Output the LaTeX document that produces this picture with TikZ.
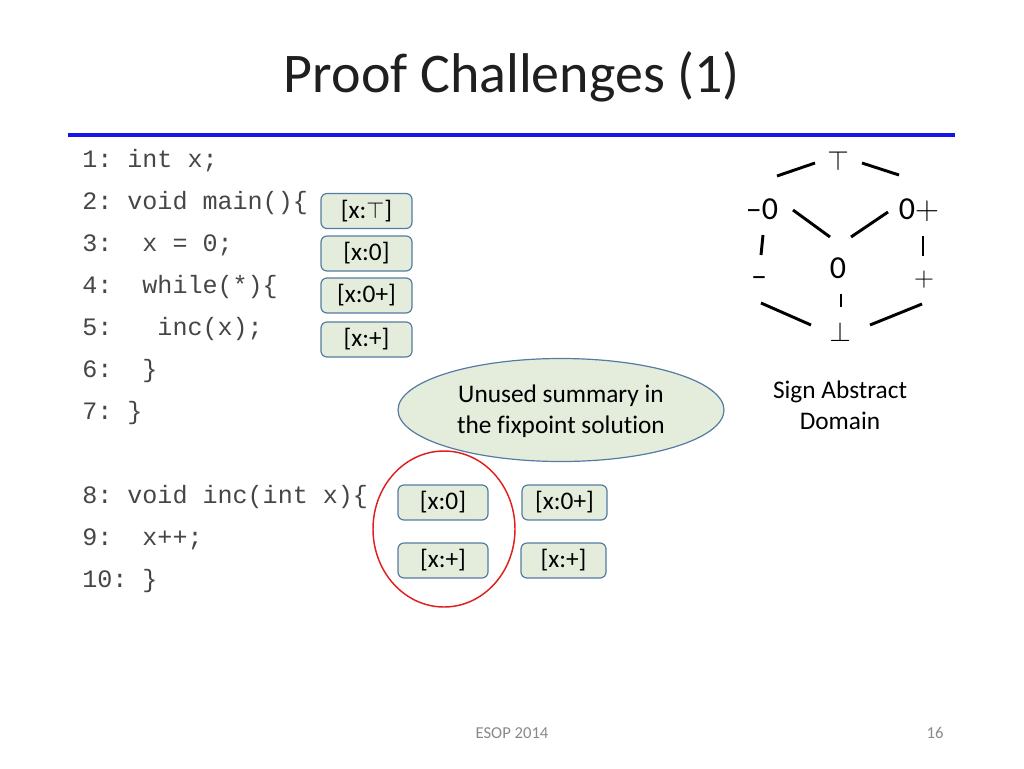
\documentclass[tikz,border=0pt]{standalone}
\usepackage{fontspec}
\setmainfont{Carlito}[Ligatures=CommonOff]
\newfontfamily\codefont{Liberation Mono}
\usetikzlibrary{shapes.geometric,calc}
\definecolor{boxfill}{RGB}{228,236,220}
\definecolor{boxline}{RGB}{84,124,162}
\definecolor{ruleblue}{RGB}{20,20,235}
\definecolor{redring}{RGB}{225,30,30}
\definecolor{codegray}{RGB}{70,70,70}
\definecolor{footgray}{RGB}{137,137,137}
\frenchspacing
\begin{document}
\begin{tikzpicture}[x=0.75pt,y=-0.75pt,
  code/.style={anchor=base west,inner sep=0pt,text=codegray,font=\codefont\fontsize{18.8}{20}\selectfont\frenchspacing},
  sumbox/.style={draw=boxline,fill=boxfill,line width=0.9pt,rounded corners=4.5pt,minimum height=26.25pt,inner sep=0pt,font=\fontsize{19}{22}\selectfont},
  lat/.style={inner sep=0pt,font=\fontsize{24}{28}\selectfont},
  latsym/.style={inner sep=0pt,font=\fontsize{20}{24}\selectfont},
  hasse/.style={line width=2.2pt,black},
  label/.style={align=center,font=\fontsize{19}{23}\selectfont}]
\useasboundingbox (0,0) rectangle (1024,768);
% title
\node[anchor=base,inner sep=0pt,font=\fontsize{42}{46}\selectfont,text=black!88] (title) at (512,92) {Proof Challenges (1)};
\coordinate (ruleL) at (68,135);
\coordinate (ruleR) at (955,135);
\draw[ruleblue,line width=3.6pt] (ruleL) -- (ruleR);
% code
\node[code] (c1) at (82,167) {1:\ int\ x;};
\node[code] (c2) at (82,209) {2:\ void\ main()\{};
\node[code] (c3) at (82,251) {3:\ \ x\ =\ 0;};
\node[code] (c4) at (82,293) {4:\ \ while(*)\{};
\node[code] (c5) at (82,335) {5:\ \ \ inc(x);};
\node[code] (c6) at (82,377) {6:\ \ \}};
\node[code] (c7) at (82,419) {7:\ \}};
\node[code] (c8) at (82,503) {8:\ void\ inc(int\ x)\{};
\node[code] (c9) at (82,545) {9:\ \ x++;};
\node[code] (c10) at (82,587) {10:\ \}};
% summary boxes (main)
\node[sumbox,minimum width=68.25pt] (b1) at (366.5,211) {[x:$\top$]};
\node[sumbox,minimum width=68.25pt] (b2) at (366.5,253.5) {[x:0]};
\node[sumbox,minimum width=68.25pt] (b3) at (366.5,295.5) {[x:0+]};
\node[sumbox,minimum width=68.25pt] (b4) at (366.5,339.5) {[x:+]};
% ellipse label
\node[ellipse,draw=boxline,fill=boxfill,line width=0.9pt,minimum width=244.5pt,minimum height=77.25pt,inner sep=0pt] (unused) at (561,410) {};
\node[label] (unusedtxt) at (561,411) {Unused summary in\\the fixpoint solution};
% inc summaries
\node[ellipse,draw=redring,line width=1.1pt,minimum width=106.5pt,minimum height=117pt,inner sep=0pt] (ring) at (444,529) {};
\node[sumbox,minimum width=67.5pt] (i1) at (443,502.5) {[x:0]};
\node[sumbox,minimum width=63.75pt] (i2) at (564.5,502.5) {[x:0+]};
\node[sumbox,minimum width=67.5pt] (i3) at (443,560.5) {[x:+]};
\node[sumbox,minimum width=63.75pt] (i4) at (563.5,560.5) {[x:+]};
% lattice
\node[latsym] (top) at (838,161) {$\top$};
\node[lat] (m0) at (762,209) {--0};
\node[lat] (p0) at (919,210) {0$+$};
\node[lat] (zero) at (838,268) {0};
\node[lat] (neg) at (759,282) {--};
\node[latsym] (pos) at (924,280) {$+$};
\node[latsym] (bot) at (840,332) {$\bot$};
\draw[hasse] ($(top)+(-61,15)$) -- ($(top)+(-23,2)$);
\draw[hasse] ($(top)+(24,2)$) -- ($(top)+(61,14)$);
\draw[hasse] ($(m0)+(31,1)$) -- ($(zero)+(-8,-31)$);
\draw[hasse] ($(p0)+(-31,2)$) -- ($(zero)+(13,-31)$);
\draw[hasse] ($(m0)+(1,26)$) -- ($(neg)+(2,-27)$);
\draw[hasse] ($(p0)+(4,26)$) -- ($(pos)+(-1,-24)$);
\draw[hasse] ($(neg)+(2,21)$) -- ($(bot)+(-29,-7)$);
\draw[hasse] ($(bot)+(30,-7)$) -- ($(pos)+(-2,24)$);
\draw[hasse] ($(zero)+(3,26)$) -- ($(zero)+(3,39)$);
\node[label] (sign) at (840,405) {Sign Abstract\\Domain};
% footer
\node[inner sep=0pt,text=footgray,font=\fontsize{12.5}{14}\selectfont] (foot) at (512,733) {ESOP 2014};
\node[inner sep=0pt,text=footgray,font=\fontsize{12.5}{14}\selectfont] (page) at (935,733) {16};
\end{tikzpicture}
\end{document}
